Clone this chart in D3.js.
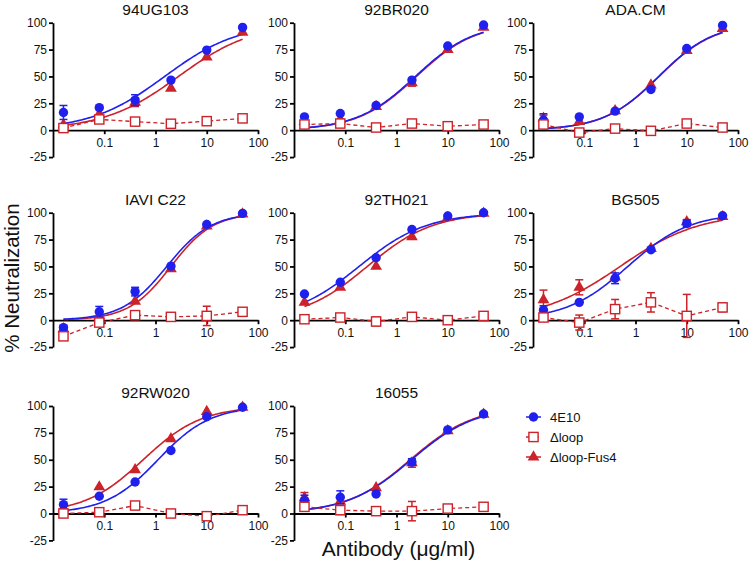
<!DOCTYPE html>
<html><head><meta charset="utf-8">
<script src="https://cdn.jsdelivr.net/npm/d3@7"></script>
<style>body{margin:0;background:#fff}svg{display:block;font-family:Arial,"Liberation Sans",sans-serif}</style>
</head><body><svg id="c" width="749" height="564"></svg>
<script>
// ---------------- data ----------------
const strains = ["94UG103","92BR020","ADA.CM","IAVI C22","92TH021","BG505","92RW020","16055"];
const concentrations = [0.016, 0.08, 0.4, 2, 10, 50];
const xTicks = [0.1, 1, 10, 100];
const yTicks = [-25, 0, 25, 50, 75, 100];
const seriesNames = ["4E10", "\u0394loop", "\u0394loop-Fus4"];

// % neutralization (means) per strain
const mean4E10 = [
  [16.5, 21, 28, 46.6, 74.5, 95.6],
  [12.4, 15.5, 23, 46.6, 78.3, 97.8],
  [9.3, 12.4, 17.7, 37.9, 76, 97.5],
  [-6.9, 7.8, 26.6, 50.3, 89, 99.4],
  [24.4, 35.3, 58.1, 84.4, 96.9, 100],
  [9.4, 16.6, 39, 65.6, 90, 97.2],
  [8.3, 16, 29.3, 58.6, 90, 98.8],
  [12, 15.1, 18.2, 47.8, 77.8, 92.6]
];
const err4E10 = [
  [6.5, 0, 5, 0, 0, 0],
  [0, 0, 0, 0, 0, 0],
  [6, 0, 0, 0, 0, 0],
  [2, 5, 4, 0, 0, 0],
  [0, 0, 0, 0, 0, 0],
  [4, 0, 5, 0, 3, 0],
  [5, 0, 0, 0, 0, 0],
  [5, 6, 0, 3, 0, 0]
];
const meanLoop = [
  [2, 10, 8, 6, 8.4, 11],
  [5.3, 6.2, 2.5, 6.2, 3.7, 5.3],
  [5.3, -2.2, 1.5, -0.6, 6.2, 2.5],
  [-15, -2.2, 4.7, 3.1, 4, 7.8],
  [0.9, 2.5, -1.2, 3.1, 0, 4],
  [2.5, -2.2, 10.3, 16.6, 4, 11.9],
  [0, 1.2, 7.4, 0, -2.5, 3.1],
  [6.2, 3.1, 2.2, 2.2, 4.6, 6.2]
];
const errLoop = [
  [0, 0, 0, 0, 0, 0],
  [0, 0, 0, 0, 0, 0],
  [0, 0, 0, 0, 0, 0],
  [0, 0, 4, 0, 9, 0],
  [0, 0, 4, 0, 0, 0],
  [0, 7, 9, 9, 20, 4],
  [0, 0, 0, 0, 0, 0],
  [0, 4, 0, 9, 0, 0]
];
const meanFus4 = [
  [5, 15, 26, 39, 68, 91],
  [8, 10, 22, 44, 75, 95.6],
  [11, 8, 18, 42, 74, 94.5],
  [-8, 4, 17.5, 47.8, 87.5, 98.8],
  [16.6, 30.6, 50, 77.5, 95.6, 99.4],
  [19, 30.6, 40, 66.6, 91.6, 96.3],
  [5, 24.7, 40.7, 69.4, 94.8, 98.8],
  [14.5, 11.4, 23.8, 47, 76.9, 92.3]
];
const errFus4 = [
  [0, 0, 4, 0, 0, 0],
  [0, 0, 0, 3, 2, 0],
  [3, 0, 0, 0, 2, 0],
  [0, 0, 0, 0, 0, 0],
  [0, 0, 0, 0, 0, 0],
  [9, 7, 0, 0, 2, 0],
  [0, 0, 0, 0, 0, 0],
  [5, 0, 0, 4, 0, 2]
];
// fitted dose-response curves (IC50 in ug/ml, Hill slope), bottom 0, top 100
const ic50_4E10 = [1.51, 2.34, 2.84, 1.66, 0.186, 0.708, 1.12, 1.95];
const hill_4E10 = [0.60, 0.76, 0.807, 1.0, 0.66, 0.72, 0.85, 0.69];
const ic50_Fus4 = [2.81, 2.45, 2.88, 2.0, 0.269, 0.501, 0.575, 1.86];
const hill_Fus4 = [0.592, 0.76, 0.80, 1.05, 0.68, 0.56, 0.76, 0.70];

// ---------------- drawing ----------------
const BLUE = "#2020ee", RED = "#cc2229";
const svg = d3.select("#c");
const colX = [53, 294, 533];
const rowTop = [22.7, 212.7, 406];
const plotW = 205, unit = 1.075;

function curvePts(ic50, h) {
  const lo = Math.log10(concentrations[0]), hi = Math.log10(concentrations[concentrations.length - 1]);
  return d3.range(121).map(k => {
    const c = Math.pow(10, lo + (hi - lo) * k / 120);
    return [c, 100 / (1 + Math.pow(ic50 / c, h))];
  });
}

strains.forEach((name, i) => {
  const col = i % 3, row = Math.floor(i / 3);
  const g = svg.append("g").attr("transform", `translate(${colX[col]},${rowTop[row]})`);
  const x = d3.scaleLog().domain([0.01, 100]).range([0, plotW]);
  const y = d3.scaleLinear().domain([-25, 100]).range([125 * unit, 0]);

  // title
  g.append("text").attr("x", plotW / 2).attr("y", -8).attr("text-anchor", "middle")
    .attr("font-size", 15.5).attr("fill", "#111").text(name);

  // axes
  const ya = g.append("g").call(d3.axisLeft(y).tickValues(yTicks).tickSize(4).tickSizeOuter(0)
    .tickPadding(2).tickFormat(d => String(d)));
  const xa = g.append("g").attr("transform", `translate(0,${y(0)})`)
    .call(d3.axisBottom(x).tickValues(xTicks).tickSize(4).tickSizeOuter(0)
    .tickPadding(4).tickFormat(d => String(d)));
  [ya, xa].forEach(a => {
    a.selectAll("path,line").attr("stroke", "#000").attr("stroke-width", 1.8);
    a.selectAll("text").attr("font-size", 12).attr("fill", "#111").attr("font-family", "Arial, 'Liberation Sans', sans-serif");
  });

  const line = d3.line().x(d => x(d[0])).y(d => y(d[1]));

  // fitted curves
  g.append("path").attr("d", line(curvePts(ic50_Fus4[i], hill_Fus4[i])))
    .attr("fill", "none").attr("stroke", RED).attr("stroke-width", 1.6);
  g.append("path").attr("d", line(curvePts(ic50_4E10[i], hill_4E10[i])))
    .attr("fill", "none").attr("stroke", BLUE).attr("stroke-width", 1.6);

  // dashed connecting line for delta-loop
  g.append("path").attr("d", line(concentrations.map((c, k) => [c, meanLoop[i][k]])))
    .attr("fill", "none").attr("stroke", RED).attr("stroke-width", 1.3).attr("stroke-dasharray", "4,3");

  function errBars(means, errs, color) {
    concentrations.forEach((c, k) => {
      const e = errs[i][k];
      if (!e) return;
      const cx = x(c), m = means[i][k];
      const eg = g.append("g").attr("stroke", color).attr("stroke-width", 1.5);
      eg.append("line").attr("x1", cx).attr("x2", cx).attr("y1", y(m - e)).attr("y2", y(m + e));
      eg.append("line").attr("x1", cx - 4).attr("x2", cx + 4).attr("y1", y(m - e)).attr("y2", y(m - e));
      eg.append("line").attr("x1", cx - 4).attr("x2", cx + 4).attr("y1", y(m + e)).attr("y2", y(m + e));
    });
  }

  // triangles
  errBars(meanFus4, errFus4, RED);
  g.selectAll(".tri").data(concentrations).enter().append("path")
    .attr("d", d3.symbol().type(d3.symbolTriangle).size(60))
    .attr("transform", (c, k) => `translate(${x(c)},${y(meanFus4[i][k])})`)
    .attr("fill", RED);
  // circles
  errBars(mean4E10, err4E10, BLUE);
  g.selectAll(".cir").data(concentrations).enter().append("circle")
    .attr("cx", c => x(c)).attr("cy", (c, k) => y(mean4E10[i][k])).attr("r", 4.7)
    .attr("fill", BLUE);
  // squares
  errBars(meanLoop, errLoop, RED);
  g.selectAll(".sq").data(concentrations).enter().append("rect")
    .attr("x", c => x(c) - 4.6).attr("y", (c, k) => y(meanLoop[i][k]) - 4.6)
    .attr("width", 9.2).attr("height", 9.2)
    .attr("fill", "#fff").attr("stroke", RED).attr("stroke-width", 1.4);
});

// axis titles
svg.append("text").attr("transform", "translate(19,278) rotate(-90)").attr("text-anchor", "middle")
  .attr("font-size", 20.5).attr("fill", "#111").text("% Neutralization");
svg.append("text").attr("x", 398.5).attr("y", 556).attr("text-anchor", "middle")
  .attr("font-size", 21).attr("fill", "#111").text("Antibody (\u03bcg/ml)");

// legend
const legY = [417, 437, 457];
const lg = svg.append("g");
seriesNames.forEach((s, k) => {
  const yy = legY[k];
  const color = k === 0 ? BLUE : RED;
  lg.append("line").attr("x1", 526).attr("x2", 541).attr("y1", yy).attr("y2", yy)
    .attr("stroke", color).attr("stroke-width", 1.5).attr("stroke-dasharray", k === 1 ? "3,2" : null);
  if (k === 0) lg.append("circle").attr("cx", 533.5).attr("cy", yy).attr("r", 4.7).attr("fill", BLUE);
  if (k === 1) lg.append("rect").attr("x", 528.9).attr("y", yy - 4.6).attr("width", 9.2).attr("height", 9.2)
    .attr("fill", "#fff").attr("stroke", RED).attr("stroke-width", 1.4);
  if (k === 2) lg.append("path").attr("d", d3.symbol().type(d3.symbolTriangle).size(60)())
    .attr("transform", `translate(533.5,${yy})`).attr("fill", RED);
  lg.append("text").attr("x", 550).attr("y", yy).attr("dy", "0.35em").attr("font-size", 13)
    .attr("fill", "#111").text(s);
});
</script></body></html>
